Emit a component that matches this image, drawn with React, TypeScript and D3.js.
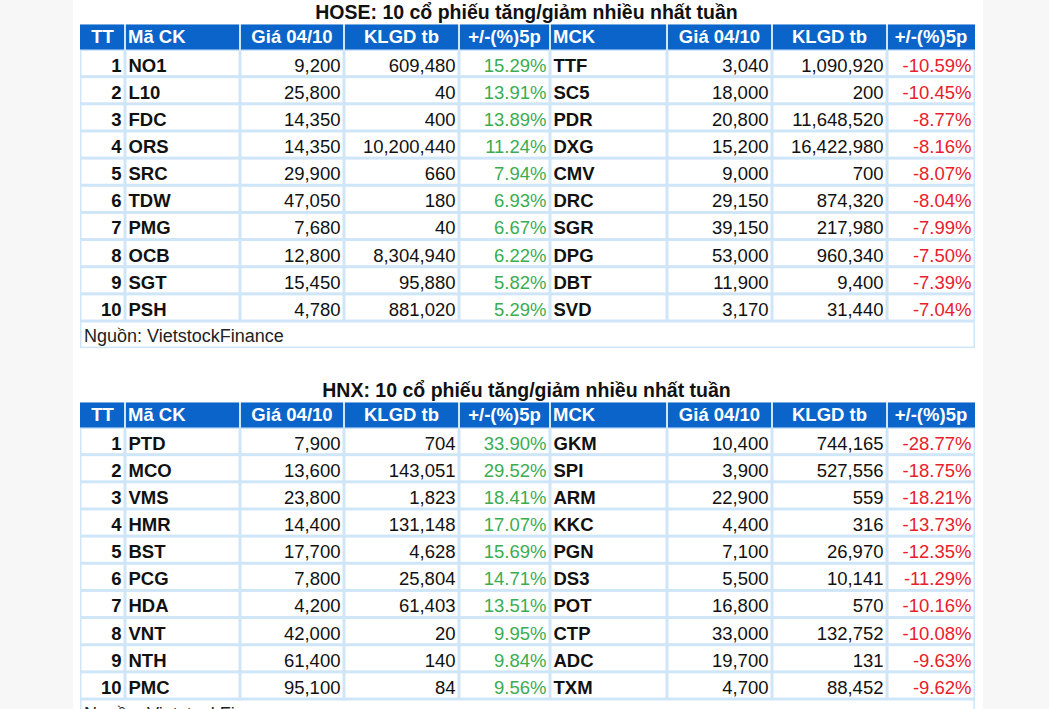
import React from 'react';
import * as d3 from 'd3';

// HOSE - tang
const hoseUpCodes = ['NO1', 'L10', 'FDC', 'ORS', 'SRC', 'TDW', 'PMG', 'OCB', 'SGT', 'PSH'];
const hoseUpPrice = [9200, 25800, 14350, 14350, 29900, 47050, 7680, 12800, 15450, 4780];
const hoseUpVol = [609480, 40, 400, 10200440, 660, 180, 40, 8304940, 95880, 881020];
const hoseUpPct = [15.29, 13.91, 13.89, 11.24, 7.94, 6.93, 6.67, 6.22, 5.82, 5.29];
// HOSE - giam
const hoseDownCodes = ['TTF', 'SC5', 'PDR', 'DXG', 'CMV', 'DRC', 'SGR', 'DPG', 'DBT', 'SVD'];
const hoseDownPrice = [3040, 18000, 20800, 15200, 9000, 29150, 39150, 53000, 11900, 3170];
const hoseDownVol = [1090920, 200, 11648520, 16422980, 700, 874320, 217980, 960340, 9400, 31440];
const hoseDownPct = [-10.59, -10.45, -8.77, -8.16, -8.07, -8.04, -7.99, -7.5, -7.39, -7.04];
// HNX - tang
const hnxUpCodes = ['PTD', 'MCO', 'VMS', 'HMR', 'BST', 'PCG', 'HDA', 'VNT', 'NTH', 'PMC'];
const hnxUpPrice = [7900, 13600, 23800, 14400, 17700, 7800, 4200, 42000, 61400, 95100];
const hnxUpVol = [704, 143051, 1823, 131148, 4628, 25804, 61403, 20, 140, 84];
const hnxUpPct = [33.9, 29.52, 18.41, 17.07, 15.69, 14.71, 13.51, 9.95, 9.84, 9.56];
// HNX - giam
const hnxDownCodes = ['GKM', 'SPI', 'ARM', 'KKC', 'PGN', 'DS3', 'POT', 'CTP', 'ADC', 'TXM'];
const hnxDownPrice = [10400, 3900, 22900, 4400, 7100, 5500, 16800, 33000, 19700, 4700];
const hnxDownVol = [744165, 527556, 559, 316, 26970, 10141, 570, 132752, 131, 88452];
const hnxDownPct = [-28.77, -18.75, -18.21, -13.73, -12.35, -11.29, -10.16, -10.08, -9.63, -9.62];

const headers = ['TT', 'Mã CK', 'Giá 04/10', 'KLGD tb', '+/-(%)5p', 'MCK', 'Giá 04/10', 'KLGD tb', '+/-(%)5p'];
const sourceText = 'Nguồn: VietstockFinance';

const W = 1049;
const H = 709;
const edges = [80, 125, 240, 344, 459, 550, 667, 772, 887, 975];
const headAlign = ['middle', 'start', 'middle', 'middle', 'middle', 'start', 'middle', 'middle', 'middle'];
const cellAlign = ['end', 'start', 'end', 'end', 'end', 'start', 'end', 'end', 'end'];

const BLUE = '#0a64c9';
const LINE = '#cfe5f8';
const GREEN = '#3aac52';
const RED = '#e8202c';
const FONT = '"Liberation Sans", Arial, sans-serif';

const fmtNum = d3.format(',');
// dung dau gach ngang thuong thay vi dau tru unicode
const fmtPct = (v) => d3.format('.2f')(v).replace('\u2212', '-') + '%';

function StockTable({ title, top, up, down }) {
  const headH = 25;
  const rowH = 27.15;
  const rows = d3.range(11); // 10 ma + dong nguon
  const y = d3.scaleBand().domain(rows).range([top + headH, top + headH + rowH * 11]).padding(0);
  const bottom = top + headH + rowH * 11;
  const x0 = edges[0];
  const x1 = edges[edges.length - 1];

  const cellText = (r, c) => {
    if (c === 0) return String(r + 1);
    if (c === 1) return up.codes[r];
    if (c === 2) return fmtNum(up.price[r]);
    if (c === 3) return fmtNum(up.vol[r]);
    if (c === 4) return fmtPct(up.pct[r]);
    if (c === 5) return down.codes[r];
    if (c === 6) return fmtNum(down.price[r]);
    if (c === 7) return fmtNum(down.vol[r]);
    return fmtPct(down.pct[r]);
  };
  const cellColor = (c) => (c === 4 ? GREEN : c === 8 ? RED : '#111');
  const cellWeight = (c) => (c === 0 || c === 1 || c === 5 ? 'bold' : 'normal');
  const textX = (c) => {
    const a = cellAlign[c];
    if (a === 'start') return edges[c] + 3.5;
    return edges[c + 1] - 3.5;
  };

  return (
    <g>
      <text x={(x0 + x1) / 2 - 1} y={top - 5.5} textAnchor="middle" fontSize={19.5} fontWeight="bold" fill="#111">{title}</text>
      <rect x={x0} y={top} width={x1 - x0} height={bottom - top} fill={LINE} />
      {headers.map((h, c) => (
        <g key={'h' + c}>
          <rect x={edges[c] + (c === 0 ? 0 : 1)} y={top} width={edges[c + 1] - edges[c] - (c === 0 ? 1 : 2) + (c === 8 ? 1 : 0)} height={headH} fill={BLUE} />
          <text
            x={headAlign[c] === 'start' ? edges[c] + 3 : (edges[c] + edges[c + 1]) / 2}
            y={top + 18.5}
            textAnchor={headAlign[c]}
            fontSize={18.5}
            fontWeight="bold"
            fill="#fff"
          >{h}</text>
        </g>
      ))}
      {d3.range(10).map((r) => (
        <g key={'r' + r}>
          {headers.map((h, c) => (
            <g key={c}>
              <rect x={edges[c] + 1.5} y={y(r) + 1.5} width={edges[c + 1] - edges[c] - 3} height={y.bandwidth() - 3} fill="#fff" />
              <text x={textX(c)} y={y(r) + y.bandwidth() / 2 + 8.5} textAnchor={cellAlign[c]} fontSize={18.5} fontWeight={cellWeight(c)} fill={cellColor(c)}>
                {cellText(r, c)}
              </text>
            </g>
          ))}
        </g>
      ))}
      <rect x={x0 + 1.5} y={y(10) + 1.5} width={x1 - x0 - 3} height={y.bandwidth() - 3} fill="#fff" />
      <text x={x0 + 4} y={y(10) + y.bandwidth() / 2 + 7.5} fontSize={18} fill="#222">{sourceText}</text>
    </g>
  );
}

export default function App() {
  return (
    <div style={{ position: 'absolute', left: 0, top: 0 }}>
      <svg width={W} height={H} style={{ display: 'block', fontFamily: FONT }}>
        <rect x={0} y={0} width={W} height={H} fill="#f7f7f7" />
        <rect x={73} y={0} width={910} height={H} fill="#fff" />
        <StockTable
          title="HOSE: 10 cổ phiếu tăng/giảm nhiều nhất tuần"
          top={24.5}
          up={{ codes: hoseUpCodes, price: hoseUpPrice, vol: hoseUpVol, pct: hoseUpPct }}
          down={{ codes: hoseDownCodes, price: hoseDownPrice, vol: hoseDownVol, pct: hoseDownPct }}
        />
        <StockTable
          title="HNX: 10 cổ phiếu tăng/giảm nhiều nhất tuần"
          top={402.5}
          up={{ codes: hnxUpCodes, price: hnxUpPrice, vol: hnxUpVol, pct: hnxUpPct }}
          down={{ codes: hnxDownCodes, price: hnxDownPrice, vol: hnxDownVol, pct: hnxDownPct }}
        />
      </svg>
    </div>
  );
}
